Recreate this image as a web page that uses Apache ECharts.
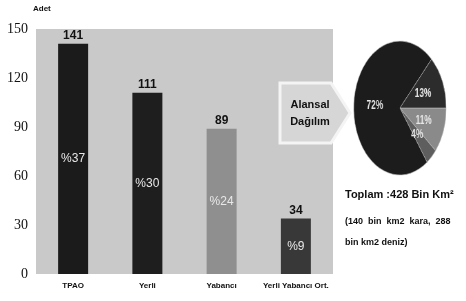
<!DOCTYPE html>
<html>
<head>
<meta charset="utf-8">
<script src="https://cdn.jsdelivr.net/npm/echarts@6/dist/echarts.min.js"></script>
<style>
  html, body { margin: 0; padding: 0; background: #fff; }
  #main { position: absolute; left: 0; top: 0; width: 466px; height: 301px; }
  #pie { position: absolute; left: 353px; top: 40px; width: 136px; height: 136px;
         transform: scaleX(0.69); transform-origin: 0 0; }
</style>
</head>
<body>
<div id="main"></div>
<div id="pie"></div>
<script>
// bar chart data
const categories = ['TPAO', 'Yerli', 'Yabancı', 'Yerli Yabancı Ort.'];
const counts = [141, 111, 89, 34];
const shares = ['%37', '%30', '%24', '%9'];

// pie data (clockwise from east)
const pieValues = [11, 4, 72, 13];
const pieLabels = ['11%', '4%', '72%', '13%'];

const barColors = ['#1b1b1b', '#1e1e1e', '#8f8f8f', '#383838'];
const pieColors = ['#8a8a8a', '#5e5e5e', '#1c1c1c', '#2c2c2c'];

const FONT = 'Liberation Sans, sans-serif';

const chart = echarts.init(document.getElementById('main'));
chart.setOption({
    animation: false,
    grid: {
        left: 36, right: 133, top: 29, bottom: 27,
        show: true, backgroundColor: '#c9c9c9', borderWidth: 0
    },
    xAxis: {
        type: 'category',
        data: categories,
        axisLine: {show: false},
        axisTick: {show: false},
        axisLabel: {
            interval: 0, margin: 8, color: '#111', fontSize: 8, fontWeight: 'bold',
            fontFamily: FONT
        }
    },
    yAxis: {
        type: 'value',
        min: 0, max: 150, interval: 30,
        splitLine: {show: false},
        axisLine: {show: false},
        axisTick: {show: false},
        axisLabel: {
            margin: 8, color: '#111', fontSize: 14,
            fontFamily: 'Liberation Serif, serif'
        }
    },
    series: [
        {
            type: 'bar',
            barWidth: 30,
            data: counts.map((v, i) => ({value: v, itemStyle: {color: barColors[i]}})),
            label: {
                show: true, position: 'top', distance: 2,
                color: '#111', fontSize: 12, fontWeight: 'bold',
                fontFamily: FONT
            }
        },
        {
            type: 'bar',
            barWidth: 30,
            barGap: '-100%',
            data: counts,
            itemStyle: {color: 'rgba(0,0,0,0)'},
            label: {
                show: true, position: 'inside',
                formatter: p => shares[p.dataIndex],
                color: '#e8e8e8', fontSize: 12,
                fontFamily: FONT
            }
        }
    ],
    graphic: [
        {
            type: 'text', left: 33, top: 5,
            style: {text: 'Adet', fontSize: 8, fontWeight: 'bold', fill: '#111', fontFamily: FONT}
        },
        {
            type: 'polygon',
            shape: {points: [[280, 83], [331, 83], [350, 113], [331, 143], [280, 143]]},
            style: {fill: '#d6d6d6', stroke: '#f4f4f4', lineWidth: 3}
        },
        {
            type: 'text', x: 310, y: 113,
            style: {text: 'Alansal\nDağılım', fontSize: 11, fontWeight: 'bold', fill: '#111',
                    lineHeight: 17, align: 'center', verticalAlign: 'middle', fontFamily: FONT}
        },
        {
            type: 'text', left: 345, top: 189,
            style: {text: 'Toplam :428 Bin Km²', fontSize: 11, fontWeight: 'bold', fill: '#111',
                    fontFamily: FONT}
        },
        {
            type: 'text', left: 345, top: 211,
            style: {text: '(140  bin  km2  kara,  288\nbin km2 deniz)', fontSize: 9, fontWeight: 'bold',
                    fill: '#111', lineHeight: 21, fontFamily: FONT}
        }
    ]
});

const pie = echarts.init(document.getElementById('pie'));
pie.setOption({
    animation: false,
    series: [{
        type: 'pie',
        center: ['50%', '50%'],
        radius: 67,
        startAngle: 0,
        clockwise: true,
        data: pieValues.map((v, i) => ({value: v, itemStyle: {color: pieColors[i]}})),
        itemStyle: {borderColor: '#bdbdbd', borderWidth: 0.6},
        label: {
            show: true, position: 'inside',
            formatter: p => pieLabels[p.dataIndex],
            color: '#e6e6e6', fontSize: 12, fontWeight: 'bold', fontFamily: FONT
        },
        labelLine: {show: false}
    }]
});
</script>
</body>
</html>
